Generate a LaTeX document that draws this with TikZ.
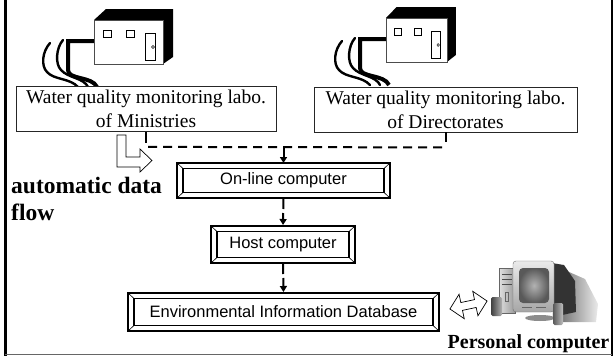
\documentclass[tikz,border=0pt]{standalone}
\usepackage{fontspec}
\setmainfont{Liberation Serif}
\setsansfont{Liberation Sans}
\usetikzlibrary{arrows.meta,calc}

% laboratory building with its pipes; #1,#2 = top-left of front face, #3 = front width
\newcommand\labbuilding[3]{%
  \begin{scope}[shift={(#1,#2)}]
    % pipes
    \draw[pipe] (-44,23) .. controls (-52,32) and (-53,46) .. (-47,52)
                .. controls (-40,60) and (-24,58) .. (-16,67);
    \draw[pipe] (-31,20) .. controls (-38,28) and (-39,44) .. (-33,50)
                .. controls (-26,58) and (-10,58) .. (-6,67);
    \draw[line width=4pt] (0,21) -- (-26,21) -- (-26,50)
                .. controls (-26,60) and (-2,56) .. (3,67);
    \begin{scope}[xscale=#3/69]
      % body
      \fill[black] (0,0) -- (12,-11) -- (79,-11) -- (79,37) -- (69,44) -- (69,0) -- cycle;
      \draw[black!70, fill=white, line width=0.6pt] (0,0) rectangle (69,44);
      \draw[line width=0.7pt] (9,10) rectangle (17,17) (32,10) rectangle (40,17)
                              (51,13) rectangle (61,40);
      \draw[line width=0.5pt] (59,27) circle[radius=1.4pt];
    \end{scope}
  \end{scope}%
}

% inner frame and corner bevels of a framed box
\newcommand\bevel[1]{%
  \draw[line width=1.5pt] ($(#1.north west)+(6,5.5)$) rectangle ($(#1.south east)+(-6,-5.5)$);
  \draw[line width=0.6pt] (#1.north west) -- ++(6,5.5) (#1.north east) -- ++(-6,5.5)
                          (#1.south west) -- ++(6,-5.5) (#1.south east) -- ++(-6,-5.5);
}

\begin{document}
\begin{tikzpicture}[x=1pt,y=-1pt,
  pipe/.style={line width=2.4pt, line cap=round},
  labbox/.style={draw=black!85, line width=0.8pt, fill=white, minimum width=260pt,
    minimum height=45pt, inner sep=0pt, align=center,
    font=\fontsize{19.5}{24}\selectfont},
  bevelbox/.style={draw, line width=1.6pt, fill=white, inner sep=0pt, outer sep=0pt,
    font=\sffamily\fontsize{16.5}{19}\selectfont},
  stub/.style={line width=2pt},
  feed/.style={line width=2pt, dash pattern=on 9pt off 6pt},
  drop/.style={line width=2pt, dash pattern=on 11pt off 4pt, shorten >=1pt,
    -{Triangle[length=6pt,width=7pt]}},
  hollow/.style={draw, line width=0.7pt, fill=white, line join=miter},
  bigbold/.style={font=\bfseries\fontsize{23.5}{27}\selectfont, inner sep=0pt},
]
\useasboundingbox (0,0) rectangle (613,356);

% outer frame
\draw[line width=3pt] (5.5,0) -- (5.5,356);
\draw[line width=2pt] (611.5,0) -- (611.5,356);
\draw[black!60, line width=1pt] (5,354.5) -- (612,354.5);

% laboratories
\labbuilding{94}{20}{69}
\labbuilding{386}{18}{61}

\node[labbox] (labmin) at (146,109) {Water quality monitoring labo.\\of Ministries};
\node[labbox, minimum width=263pt] (labdir) at (445.5,109.5) {Water quality monitoring labo.\\of Directorates};

% processing chain
\node[bevelbox, minimum width=213pt, minimum height=35pt] (online) at (283.5,180.5) {On-line computer};
\node[bevelbox, minimum width=144pt, minimum height=37pt] (host) at (283,244.5) {Host computer};
\node[bevelbox, minimum width=311pt, minimum height=38pt] (envdb) at (283.5,312) {Environmental Information Database};
\bevel{online}
\bevel{host}
\bevel{envdb}

% data bus from both laboratories
\draw[stub] (labmin.south) -- ++(0,11);
\draw[stub] (labdir.south) -- ++(0,10);
\coordinate (busL) at ($(labmin.south)+(2,15)$);
\coordinate (busR) at ($(labdir.south)+(-2,15)$);
\draw[feed] (busL) -- (busR);
\draw[stub, -{Triangle[length=6pt,width=7pt]}] (busL -| online.north) -- (online.north);
\draw[drop] (online.south) -- (host.north);
\draw[drop] (host.south) -- (envdb.north);

% automatic data flow marker
\draw[hollow] (117,135) -- (126,135) -- (126,157) -- (140,157) -- (140,149)
  -- (152,160.5) -- (140,172) -- (140,167) -- (117,167) -- cycle;
\node[bigbold, anchor=north west, align=left] (adf) at (11,177) {automatic data\\flow};

% two-way link to the personal computer
\begin{scope}[shift={(468.5,305)}, rotate=12]
  \draw[hollow] (-19,0) -- (-7,-12.5) -- (-7,-4) -- (7,-4) -- (7,-12.5) -- (19,0)
    -- (7,12.5) -- (7,4) -- (-7,4) -- (-7,12.5) -- cycle;
\end{scope}

% personal computer
\shade[left color=black!55, right color=black!8] (560,268) -- (585,279) -- (598,304) -- (596,322) -- (560,322) -- cycle;
\fill[black!80] (552,263) -- (564,265) -- (575,281) -- (576,312) -- (553,317) -- cycle;
\shade[left color=black!12, right color=black!40, draw=black!60, line width=0.4pt] (499,268) rectangle (515,313);
\draw[black!70, line width=0.8pt] (502,274) -- (512,274) (502,279) -- (512,279) (502,284) -- (512,284);
\draw[black!60, line width=0.5pt] (505,292) rectangle (508,301);
\fill[black!45] (540,318) ellipse [x radius=15pt, y radius=3pt];
\shade[top color=black!8, bottom color=black!35, draw=black!55, line width=0.4pt, rounded corners=3pt] (513,261) rectangle (554,312);
\shade[inner color=black!30, outer color=black!65, rounded corners=4pt] (519,268) rectangle (549,303);
\draw[black!60, line width=0.6pt] (522,307.5) -- (532,307.5) (536,307.5) -- (546,307.5);
\shade[left color=black!75, right color=black!30, rounded corners=1.5pt] (491,297) rectangle (502,316);
\shade[left color=black!65, right color=black!25, rounded corners=1.5pt] (553,303) rectangle (563,325);
\node[bigbold, font=\bfseries\fontsize{20}{24}\selectfont, anchor=base east] (pclabel) at (609.5,348) {Personal computer};

\end{tikzpicture}
\end{document}
